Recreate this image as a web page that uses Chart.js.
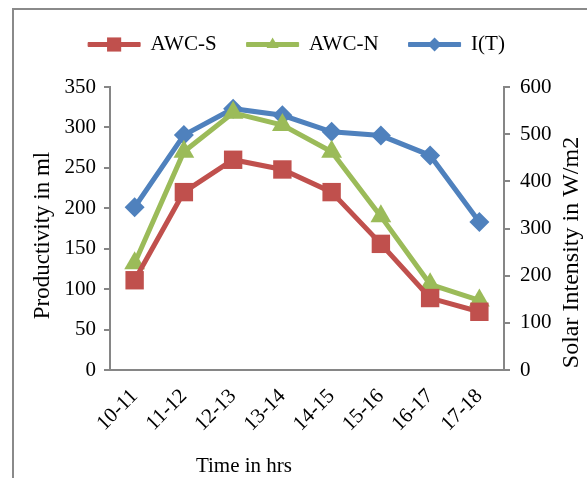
<!DOCTYPE html>
<html>
<head>
<meta charset="utf-8">
<script src="https://cdn.jsdelivr.net/npm/chart.js@4.4.0/dist/chart.umd.min.js"></script>
<style>
  html, body { margin: 0; padding: 0; background: #fff; }
  #wrap { position: relative; width: 587px; height: 478px; overflow: hidden; }
  #frame { position: absolute; left: 12px; top: 8px; width: 700px; height: 600px;
           border-left: 2px solid #8a8a8a; border-top: 2px solid #8a8a8a; }
  canvas { position: absolute; left: 0; top: 0; }
</style>
</head>
<body>
<div id="wrap">
  <div id="frame"></div>
  <canvas id="chart" width="587" height="478"></canvas>
</div>
<script>
const categories = ['10-11', '11-12', '12-13', '13-14', '14-15', '15-16', '16-17', '17-18'];
const awcS = [111, 220, 260, 248, 220, 156, 89, 72];
const awcN = [132, 270, 318, 303, 270, 190, 106, 86];
const solarIntensity = [345, 498, 554, 540, 505, 497, 455, 314];

const leftMax = 350, leftStep = 50;
const rightMax = 600, rightStep = 100;

const RED = '#c0504d';
const GREEN = '#9bbb59';
const BLUE = '#4f81bd';
const AXIS = '#868686';
const FONT = 'Liberation Serif';

// legend: extra room below the items
const legendSpace = {
  id: 'legendSpace',
  beforeInit(chart) {
    const fit = chart.legend.fit;
    chart.legend.fit = function () {
      fit.bind(chart.legend)();
      this.height += 22;
    };
  }
};

// markers over the legend lines, and the three axis titles
const extras = {
  id: 'extras',
  afterDraw(chart) {
    const ctx = chart.ctx;
    const legend = chart.legend;
    const boxW = legend.options.labels.boxWidth;
    legend.legendHitBoxes.forEach((hb, i) => {
      const ds = chart.data.datasets[i];
      ctx.save();
      ctx.fillStyle = ds.borderColor;
      ctx.strokeStyle = ds.borderColor;
      Chart.helpers.drawPoint(ctx, {
        pointStyle: ds.pointStyle,
        radius: ds.legendRadius,
        rotation: 0,
        borderWidth: 0
      }, hb.left + boxW / 2, hb.top + hb.height / 2);
      ctx.restore();
    });

    const x = chart.scales.x;
    const y = chart.scales.y;
    const y1 = chart.scales.y1;
    const midY = (y.top + y.bottom) / 2;
    ctx.save();
    ctx.fillStyle = '#000';
    ctx.textAlign = 'center';
    ctx.textBaseline = 'middle';
    ctx.font = '21px "' + FONT + '"';
    ctx.fillText('Time in hrs', x.left + x.width * 0.34, 466);

    ctx.save();
    ctx.font = '23px "' + FONT + '"';
    ctx.translate(y.left + 37, midY + 7);
    ctx.rotate(-Math.PI / 2);
    ctx.fillText('Productivity in ml', 0, 0);
    ctx.restore();

    ctx.font = '24px "' + FONT + '"';
    ctx.translate(y1.right - 15, midY + 24);
    ctx.rotate(-Math.PI / 2);
    ctx.fillText('Solar Intensity in W/m2', 0, 0);
    ctx.restore();
  }
};

const ctx = document.getElementById('chart').getContext('2d');
new Chart(ctx, {
  type: 'line',
  data: {
    labels: categories,
    datasets: [
      {
        label: 'AWC-S',
        data: awcS,
        yAxisID: 'y',
        borderColor: RED,
        backgroundColor: RED,
        borderWidth: 5,
        pointStyle: 'rect',
        pointRadius: 13,
        pointHoverRadius: 13,
        pointBorderWidth: 0,
        legendRadius: 10,
        tension: 0
      },
      {
        label: 'AWC-N',
        data: awcN,
        yAxisID: 'y',
        borderColor: GREEN,
        backgroundColor: GREEN,
        borderWidth: 5,
        pointStyle: 'triangle',
        pointRadius: 12,
        pointHoverRadius: 12,
        pointBorderWidth: 0,
        legendRadius: 7,
        tension: 0
      },
      {
        label: 'I(T)',
        data: solarIntensity,
        yAxisID: 'y1',
        borderColor: BLUE,
        backgroundColor: BLUE,
        borderWidth: 5,
        pointStyle: 'rectRot',
        pointRadius: 10,
        pointHoverRadius: 10,
        pointBorderWidth: 0,
        legendRadius: 7,
        tension: 0
      }
    ]
  },
  options: {
    responsive: false,
    animation: false,
    devicePixelRatio: 1,
    layout: { padding: { top: 4, left: 6, right: 0, bottom: 0 } },
    plugins: {
      tooltip: { enabled: false },
      legend: {
        position: 'top',
        labels: {
          font: { family: FONT, size: 21 },
          color: '#000',
          boxWidth: 52,
          boxHeight: 4,
          padding: 30,
          generateLabels(chart) {
            return chart.data.datasets.map((ds, i) => ({
              text: ds.label,
              fillStyle: ds.borderColor,
              strokeStyle: ds.borderColor,
              lineWidth: 1,
              datasetIndex: i,
              hidden: false
            }));
          }
        }
      }
    },
    scales: {
      x: {
        offset: true,
        afterFit(scale) { scale.height = 108; },
        grid: { display: false },
        border: { color: AXIS, width: 2 },
        ticks: {
          color: '#000',
          font: { family: FONT, size: 21 },
          minRotation: 45,
          maxRotation: 45,
          padding: 6
        }
      },
      y: {
        position: 'left',
        min: 0,
        max: leftMax,
        afterFit(scale) { scale.width = 104; },
        ticks: { stepSize: leftStep, color: '#000', font: { family: FONT, size: 21 }, padding: 8 },
        grid: { drawOnChartArea: false, color: AXIS, tickLength: 6, lineWidth: 2 },
        border: { color: AXIS, width: 2 }
      },
      y1: {
        position: 'right',
        min: 0,
        max: rightMax,
        afterFit(scale) { scale.width = 83; },
        ticks: { stepSize: rightStep, color: '#000', font: { family: FONT, size: 21 }, padding: 10 },
        grid: { drawOnChartArea: false, color: AXIS, tickLength: 6, lineWidth: 2 },
        border: { color: AXIS, width: 2 }
      }
    }
  },
  plugins: [legendSpace, extras]
});
</script>
</body>
</html>
